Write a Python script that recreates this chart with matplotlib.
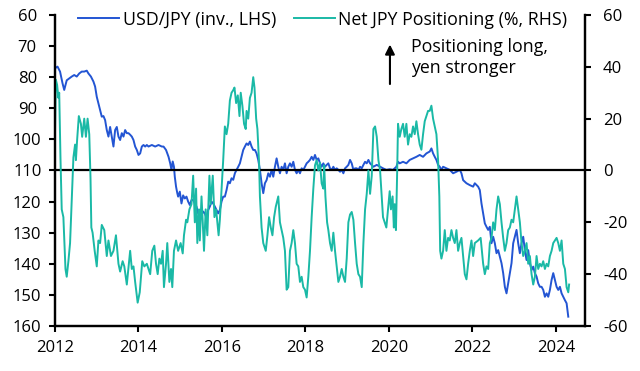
import matplotlib
matplotlib.use('Agg')
import matplotlib.pyplot as plt

plt.rcParams['font.family'] = ['Open Sans', 'DejaVu Sans']
plt.rcParams['axes.unicode_minus'] = False

# ============= data =================================================
usdjpy_years = [
    2012.00, 2012.06, 2012.12, 2012.18, 2012.22, 2012.28, 2012.34, 2012.40, 2012.46, 2012.52,
    2012.58, 2012.64, 2012.70, 2012.76, 2012.80, 2012.86, 2012.92, 2012.96, 2013.00, 2013.04,
    2013.08, 2013.12, 2013.16, 2013.20, 2013.24, 2013.28, 2013.32, 2013.36, 2013.40, 2013.44,
    2013.48, 2013.52, 2013.56, 2013.60, 2013.64, 2013.68, 2013.72, 2013.76, 2013.80, 2013.84,
    2013.88, 2013.92, 2013.96, 2014.00, 2014.04, 2014.08, 2014.12, 2014.16, 2014.20, 2014.24,
    2014.32, 2014.40, 2014.48, 2014.56, 2014.60, 2014.66, 2014.72, 2014.76, 2014.79, 2014.82,
    2014.85, 2014.87, 2014.90, 2014.93, 2014.95, 2014.99, 2015.03, 2015.07, 2015.11, 2015.15,
    2015.19, 2015.23, 2015.27, 2015.31, 2015.35, 2015.39, 2015.43, 2015.47, 2015.51, 2015.55,
    2015.59, 2015.63, 2015.67, 2015.71, 2015.75, 2015.79, 2015.83, 2015.87, 2015.91, 2015.95,
    2015.99, 2016.03, 2016.07, 2016.11, 2016.15, 2016.19, 2016.23, 2016.27, 2016.31, 2016.35,
    2016.39, 2016.43, 2016.47, 2016.51, 2016.55, 2016.59, 2016.63, 2016.67, 2016.71, 2016.75,
    2016.79, 2016.83, 2016.87, 2016.91, 2016.95, 2016.99,
    2017.03, 2017.07, 2017.11, 2017.15, 2017.19, 2017.23, 2017.27, 2017.31, 2017.35, 2017.39,
    2017.43, 2017.47, 2017.51, 2017.55, 2017.59, 2017.63, 2017.67, 2017.71, 2017.75, 2017.79,
    2017.83, 2017.87, 2017.91, 2017.95, 2017.99, 2018.03, 2018.07, 2018.11, 2018.15, 2018.19,
    2018.23, 2018.27, 2018.31, 2018.35, 2018.39, 2018.43, 2018.47, 2018.51, 2018.55, 2018.59,
    2018.63, 2018.67, 2018.71, 2018.75, 2018.79, 2018.83, 2018.87, 2018.91, 2018.95, 2018.99,
    2019.03, 2019.07, 2019.11, 2019.15, 2019.19, 2019.23, 2019.27, 2019.31, 2019.35, 2019.39,
    2019.43, 2019.47, 2019.51,
    2019.55, 2019.63, 2019.71, 2019.79, 2019.86, 2019.94, 2020.02, 2020.10, 2020.18, 2020.22,
    2020.26, 2020.34, 2020.42, 2020.50, 2020.58, 2020.66, 2020.74, 2020.82, 2020.90, 2020.98,
    2021.02, 2021.06, 2021.10, 2021.14, 2021.18, 2021.22, 2021.26, 2021.30, 2021.38, 2021.46,
    2021.54, 2021.62, 2021.70, 2021.74, 2021.78, 2021.82, 2021.86, 2021.94, 2022.02,
    2022.06, 2022.14, 2022.18, 2022.22, 2022.26, 2022.30, 2022.34, 2022.38, 2022.42, 2022.46,
    2022.50, 2022.54, 2022.58, 2022.62, 2022.66, 2022.70, 2022.74, 2022.78, 2022.82, 2022.86,
    2022.90, 2022.94, 2022.98, 2023.02, 2023.06, 2023.10, 2023.14, 2023.18, 2023.22, 2023.26,
    2023.30, 2023.34, 2023.38, 2023.42, 2023.46, 2023.50, 2023.54, 2023.58, 2023.62, 2023.66,
    2023.70, 2023.74, 2023.78, 2023.82, 2023.86, 2023.90, 2023.94, 2023.98, 2024.02, 2024.06,
    2024.10, 2024.14, 2024.18, 2024.22, 2024.26, 2024.30,
]
usdjpy = [
    77.1, 76.6, 78.2, 82.0, 84.1, 81.0, 80.4, 79.8, 79.3, 79.8,
    78.8, 78.2, 78.2, 77.9, 78.8, 79.8, 81.4, 83.0, 86.3, 88.4,
    90.5, 92.7, 92.5, 93.8, 97.0, 99.1, 96.0, 99.1, 102.3, 97.0,
    96.0, 99.1, 100.2, 98.0, 99.1, 97.0, 98.0, 98.0, 98.5, 99.1,
    100.2, 102.3, 103.4, 105.0, 104.5, 102.3, 101.8, 102.3, 101.8, 102.3,
    101.8, 102.3, 101.8, 102.3, 102.3, 103.4, 105.6, 107.7, 109.8, 107.1,
    108.8, 112.0, 115.2, 117.3, 118.4, 116.8, 120.6, 118.0, 119.0, 118.4,
    120.0, 121.1, 119.5, 119.5, 120.6, 121.6, 123.8, 122.7, 124.3, 123.2,
    123.8, 125.4, 122.7, 121.6, 120.0, 120.6, 121.6, 122.7, 123.8, 122.7,
    120.0, 118.4, 118.4, 116.3, 113.6, 114.1, 112.5, 113.0, 110.9, 109.8,
    108.8, 107.7, 105.6, 103.4, 102.3, 101.3, 101.8, 100.7, 102.3, 103.4,
    103.4, 104.5, 106.6, 109.8, 114.1, 117.3,
    114.1, 113.1, 110.9, 112.0, 109.8, 112.0, 108.8, 106.1, 108.8, 110.9,
    108.8, 109.8, 107.7, 110.9, 108.8, 107.7, 108.8, 107.2, 109.8, 110.9,
    109.8, 110.9, 109.3, 109.8, 108.8, 107.7, 107.2, 106.6, 105.6, 106.6,
    105.0, 106.6, 106.1, 107.7, 108.8, 107.7, 108.8, 108.2, 107.7, 109.3,
    109.8, 108.8, 109.8, 109.3, 109.8, 110.4, 109.8, 110.9, 109.3, 108.8,
    108.2, 106.6, 107.7, 109.8, 109.3, 109.3, 109.8, 108.8, 109.3, 108.2,
    107.2, 107.7, 106.6,
    107.7, 108.8, 108.2, 108.8, 109.3, 109.8, 109.6, 109.8, 108.8, 107.2,
    107.7, 107.2, 107.7, 106.6, 106.1, 105.6, 105.0, 105.6, 104.5, 103.9,
    102.9, 104.5, 105.6, 106.6, 108.2, 108.8, 109.8, 108.8, 109.3, 109.8,
    110.9, 110.4, 109.8, 110.9, 113.1, 113.6, 114.1, 114.7, 115.2,
    114.1, 115.2, 116.3, 120.6, 123.8, 127.0, 128.1, 129.1, 128.1, 133.4,
    131.3, 133.4, 136.6, 135.6, 137.7, 139.8, 143.0, 147.4, 149.5, 146.3,
    143.0, 139.8, 133.4, 131.3, 129.1, 133.4, 136.6, 133.4, 131.3, 135.6,
    138.8, 135.6, 139.8, 142.0, 140.9, 143.0, 144.1, 146.3, 147.4, 147.4,
    148.4, 150.6, 149.5, 150.6, 148.4, 145.2, 143.0, 145.2, 147.4, 148.4,
    147.4, 149.5, 150.6, 151.7, 152.7, 157.0,
]

pos_years = [
    2012.00, 2012.02, 2012.05, 2012.08, 2012.10, 2012.13, 2012.16, 2012.20, 2012.25, 2012.28,
    2012.32, 2012.36, 2012.40, 2012.44, 2012.48, 2012.50, 2012.53, 2012.57, 2012.62, 2012.65,
    2012.70, 2012.74, 2012.78, 2012.82, 2012.85, 2012.87, 2012.90, 2012.95, 2013.00, 2013.04,
    2013.08, 2013.12, 2013.18, 2013.24, 2013.28, 2013.34, 2013.40, 2013.46, 2013.52, 2013.56,
    2013.62, 2013.66, 2013.72, 2013.80, 2013.84, 2013.88, 2013.92, 2013.98, 2014.03, 2014.09,
    2014.14, 2014.20, 2014.28, 2014.33, 2014.38, 2014.42, 2014.46, 2014.50,
    2014.54, 2014.58, 2014.61, 2014.66, 2014.69, 2014.74, 2014.78, 2014.81, 2014.85, 2014.90,
    2014.95, 2015.01, 2015.06, 2015.09, 2015.14, 2015.17, 2015.22, 2015.27, 2015.31, 2015.35,
    2015.38, 2015.41, 2015.45, 2015.47, 2015.51, 2015.54, 2015.57, 2015.61, 2015.65, 2015.70,
    2015.73, 2015.78, 2015.82, 2015.86, 2015.89, 2015.92, 2015.95, 2016.00, 2016.03, 2016.07,
    2016.11, 2016.15, 2016.19, 2016.23, 2016.27, 2016.30, 2016.34, 2016.38, 2016.42, 2016.45,
    2016.49, 2016.53, 2016.57, 2016.59, 2016.63, 2016.67, 2016.71, 2016.75, 2016.78, 2016.82,
    2016.85, 2016.89, 2016.91, 2016.95, 2016.99,
    2017.05, 2017.09, 2017.13, 2017.17, 2017.21, 2017.25, 2017.29, 2017.35, 2017.39, 2017.43,
    2017.47, 2017.51, 2017.55, 2017.59, 2017.63, 2017.67, 2017.71, 2017.75, 2017.79, 2017.83,
    2017.87, 2017.91, 2017.95, 2017.99, 2018.03, 2018.07, 2018.11, 2018.15, 2018.19, 2018.23,
    2018.27, 2018.31, 2018.35, 2018.39, 2018.43, 2018.45, 2018.48, 2018.52, 2018.55, 2018.59,
    2018.63, 2018.67, 2018.71, 2018.75, 2018.79, 2018.83, 2018.87, 2018.91, 2018.95, 2018.99,
    2019.03, 2019.07, 2019.11, 2019.15, 2019.19, 2019.23, 2019.27, 2019.31, 2019.35, 2019.39,
    2019.43, 2019.47, 2019.51,
    2019.55, 2019.59, 2019.63, 2019.67, 2019.71, 2019.75, 2019.79, 2019.83, 2019.86, 2019.90,
    2019.94, 2019.98, 2020.02, 2020.05, 2020.09, 2020.12, 2020.14, 2020.17, 2020.20, 2020.22,
    2020.26, 2020.30, 2020.34, 2020.38, 2020.42, 2020.46, 2020.50, 2020.54, 2020.58, 2020.62,
    2020.66, 2020.70, 2020.74, 2020.78, 2020.82, 2020.86, 2020.90, 2020.94, 2020.98, 2021.02,
    2021.06, 2021.10, 2021.14, 2021.18, 2021.21, 2021.23, 2021.26, 2021.30, 2021.34, 2021.38,
    2021.42, 2021.46, 2021.50, 2021.54, 2021.58, 2021.62, 2021.66, 2021.70, 2021.74, 2021.78,
    2021.82, 2021.86, 2021.90, 2021.94, 2021.98, 2022.02,
    2022.06, 2022.14, 2022.20, 2022.26, 2022.30, 2022.34, 2022.38, 2022.42, 2022.46, 2022.50,
    2022.54, 2022.58, 2022.62, 2022.66, 2022.70, 2022.74, 2022.78, 2022.82, 2022.86, 2022.90,
    2022.94, 2022.98, 2023.02, 2023.06, 2023.10, 2023.14, 2023.18, 2023.22, 2023.26, 2023.30,
    2023.34, 2023.38, 2023.42, 2023.46, 2023.50, 2023.54, 2023.58, 2023.62, 2023.66, 2023.70,
    2023.74, 2023.78, 2023.82, 2023.86, 2023.90, 2023.94, 2023.98, 2024.02, 2024.06, 2024.10,
    2024.14, 2024.18, 2024.22, 2024.26, 2024.30, 2024.32,
]
pos = [
    16, 35, 33, 28, 30, 5, -15, -18, -38, -41,
    -35, -28, -12, 5, 10, 4, 12, 21, 18, 13,
    20, 13, 20, 14, -3, -22, -24, -31, -37, -27,
    -28, -21, -23, -33, -27, -33, -31, -25, -36, -39,
    -35, -37, -44, -31, -38, -37, -43, -51, -47, -35,
    -37, -36, -40, -31, -29, -36, -40, -34,
    -36, -31, -45, -36, -28, -43, -38, -45, -31, -27,
    -31, -28, -32, -25, -19, -20, -15, -13, -2, -20,
    -7, -28, -15, -27, -10, -20, -31, -15, -25, -2,
    -13, -2, -18, -15, -20, -25, -19, -5, 4, 17,
    14, 18, 27, 30, 31, 32, 26, 29, 21, 30,
    25, 18, 16, 23, 20, 28, 30, 36, 32, 20,
    16, 3, -10, -22, -28,
    -31, -25, -18, -22, -25, -18, -14, -10, -20, -23,
    -26, -31, -46, -45, -31, -28, -23, -28, -36, -37,
    -43, -41, -45, -46, -49, -41, -31, -18, -7, 2,
    4, 0, 3, -5, -7, 2, -10, -20, -23, -28,
    -31, -24, -31, -37, -43, -41, -38, -41, -43, -34,
    -20, -17, -16, -19, -28, -36, -40, -41, -45, -28,
    -15, -9, 0,
    -9, -2, 16, 17, 13, 4, 0, -10, -18, -20,
    -22, -15, -8, -15, -10, -22, -13, -23, 0, 18,
    13, 16, 18, 13, 18, 10, 14, 13, 17, 14,
    19, 14, 10, 8, 14, 19, 21, 23, 23, 25,
    20, 17, 14, 4, -10, -31, -34, -31, -23, -31,
    -26, -27, -23, -26, -28, -23, -31, -28, -26, -33,
    -40, -42, -36, -31, -27, -33,
    -28, -27, -26, -36, -40, -37, -38, -28, -26, -20,
    -23, -15, -10, -13, -20, -26, -31, -28, -23, -22,
    -19, -20, -15, -10, -15, -20, -28, -33, -31, -28,
    -36, -33, -40, -44, -41, -33, -38, -36, -37, -35,
    -38, -36, -37, -33, -31, -28, -27, -26, -28, -31,
    -27, -36, -38, -45, -47, -44,
]

year_ticks = list(range(2012, 2025, 2))
left_ticks = list(range(60, 161, 10))
right_ticks = list(range(-60, 61, 20))

blue = '#2355d3'
teal = '#1ab9a6'

fig = plt.figure(figsize=(6.4, 3.71), dpi=100)
ax = fig.add_axes([0.086, 0.1213, 0.828, 0.8383])
ax2 = ax.twinx()

l1, = ax.plot(usdjpy_years, usdjpy, color=blue, lw=1.4, label='USD/JPY (inv., LHS)')
ax2.axhline(0, color='black', lw=1.6, zorder=1)
l2, = ax2.plot(pos_years, pos, color=teal, lw=1.4, zorder=2,
               label='Net JPY Positioning (%, RHS)')

ax.set_xlim(2012, 2024.7)
ax.set_xticks(year_ticks)
ax.set_ylim(160, 60)
ax.set_yticks(left_ticks)
ax2.set_ylim(-60, 60)
ax2.set_yticks(right_ticks)

for a in (ax, ax2):
    a.spines['top'].set_visible(False)
    for s in ('left', 'right', 'bottom'):
        a.spines[s].set_linewidth(1.6)
        a.spines[s].set_color('black')

ax.tick_params(axis='both', direction='out', length=4, width=1.5, labelsize=12, colors='black')
ax.tick_params(axis='y', pad=16)
ax.tick_params(axis='x', pad=6)
plt.setp(ax.get_yticklabels(), ha='center')
ax2.tick_params(axis='y', direction='out', length=4, width=1.5, labelsize=12, pad=9, colors='black')

leg = ax2.legend(handles=[l1, l2], loc='center', bbox_to_anchor=(0.505, 0.985), ncol=2,
                 frameon=False, fontsize=12.8, handlelength=2.3, handletextpad=0.2,
                 columnspacing=1.0, borderaxespad=0)

ax2.annotate('', xy=(0.632, 0.905), xytext=(0.632, 0.778), xycoords='axes fraction',
             arrowprops=dict(arrowstyle='-|>', color='black', lw=1.5,
                             mutation_scale=14, shrinkA=0, shrinkB=0))
ax2.text(0.671, 0.925, 'Positioning long,\nyen stronger', transform=ax2.transAxes,
         fontsize=12.8, va='top', ha='left', linespacing=1.2)

fig.savefig('out.png', dpi=100)
